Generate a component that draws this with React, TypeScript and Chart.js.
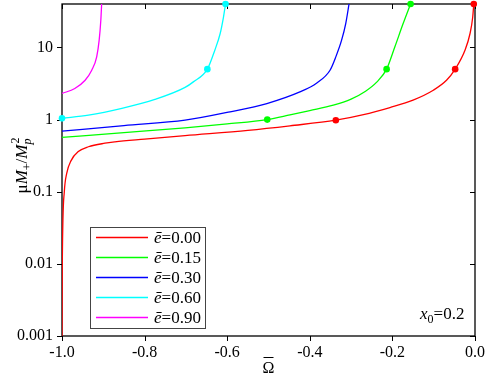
import React, { useEffect, useRef } from 'react';
import { Chart, registerables } from 'chart.js';

Chart.register(...registerables);

// ---- data ----
const eLabels = ['0.00', '0.15', '0.30', '0.60', '0.90'];
const seriesColors = ['#ff0000', '#00ff00', '#0000ff', '#00ffff', '#ff00ff'];

const omega000 = [-1.0, -0.9993, -0.9944, -0.9886, -0.978, -0.9605, -0.936, -0.896, -0.872, -0.8, -0.702, -0.55, -0.448, -0.337, -0.27, -0.206, -0.15, -0.101, -0.069, -0.048, -0.024, -0.012, -0.0055, -0.003];
const mass000 = [0.001, 0.01, 0.1, 0.18, 0.27, 0.36, 0.42, 0.47, 0.49, 0.535, 0.6, 0.71, 0.82, 0.98, 1.17, 1.47, 1.86, 2.55, 3.5, 5.0, 9.2, 15.6, 26.4, 40];

const omega015 = [-1.0, -0.85, -0.702, -0.6, -0.503, -0.448, -0.4, -0.343, -0.3, -0.265, -0.238, -0.214, -0.194, -0.174, -0.156];
const mass015 = [0.565, 0.66, 0.767, 0.87, 1.0, 1.16, 1.33, 1.58, 1.92, 2.47, 3.3, 5.0, 10.2, 21.4, 40];

const omega030 = [-1.0, -0.85, -0.702, -0.593, -0.504, -0.424, -0.383, -0.351, -0.337, -0.323, -0.313, -0.305];
const mass030 = [0.69, 0.826, 0.98, 1.28, 1.67, 2.42, 3.22, 4.83, 7.4, 12.6, 21.4, 40];

const omega060 = [-1.0, -0.936, -0.855, -0.775, -0.702, -0.682, -0.648, -0.63, -0.617, -0.609, -0.604];
const mass060 = [1.04, 1.15, 1.43, 1.9, 2.79, 3.33, 5.0, 9.15, 15.6, 26.4, 40];

const omega090 = [-1.0, -0.969, -0.944, -0.928, -0.916, -0.91, -0.906, -0.904];
const mass090 = [2.3, 2.7, 3.51, 4.83, 7.4, 12.6, 23.8, 40];

// marker points
const markOmega000 = [-0.337, -0.048, -0.003];
const markMass000 = [0.98, 5.0, 40];
const markOmega015 = [-0.503, -0.214, -0.156];
const markMass015 = [1.0, 5.0, 40];
const markOmega060 = [-1.0, -0.648, -0.604];
const markMass060 = [1.04, 5.0, 40];

const xTickLabels = ['-1.0', '-0.8', '-0.6', '-0.4', '-0.2', '0.0'];
const yTickLabels = ['0.001', '0.01', '0.1', '1', '10'];
const xMin = -1.0, xMax = 0.0, xMinorStep = 0.05, xMajorStep = 0.2;
const yMin = 0.001, yMax = 40;
const annotationValue = '0.2';

const lineSeries = [
  { omega: omega000, mass: mass000 },
  { omega: omega015, mass: mass015 },
  { omega: omega030, mass: mass030 },
  { omega: omega060, mass: mass060 },
  { omega: omega090, mass: mass090 },
];
const markerSeries = [
  { idx: 0, omega: markOmega000, mass: markMass000 },
  { idx: 1, omega: markOmega015, mass: markMass015 },
  { idx: 3, omega: markOmega060, mass: markMass060 },
];

const FONT = '"Liberation Serif", "DejaVu Serif", serif';

function isMajorX(v: number) {
  const r = v / xMajorStep;
  return Math.abs(r - Math.round(r)) < 1e-6;
}
function isMajorY(v: number) {
  const l = Math.log10(v);
  return Math.abs(l - Math.round(l)) < 1e-6;
}

const decorPlugin = {
  id: 'decor',
  beforeDatasetsDraw(chart: any) {
    const { ctx, chartArea: a, scales } = chart;
    const xs = scales.x, ys = scales.y;
    ctx.save();
    ctx.strokeStyle = '#000';
    ctx.lineWidth = 1.3;
    ctx.strokeRect(a.left, a.top, a.right - a.left, a.bottom - a.top);
    ctx.lineWidth = 1;
    ctx.beginPath();
    xs.ticks.forEach((t: any) => {
      const px = Math.round(xs.getPixelForValue(t.value)) + 0.5;
      const L = isMajorX(t.value) ? 5 : 3;
      ctx.moveTo(px, a.bottom); ctx.lineTo(px, a.bottom + L);
      ctx.moveTo(px, a.top); ctx.lineTo(px, a.top + L);
    });
    ys.ticks.forEach((t: any) => {
      if (t.value < yMin || t.value > yMax) return;
      const py = Math.round(ys.getPixelForValue(t.value)) + 0.5;
      const L = isMajorY(t.value) ? 5 : 3;
      ctx.moveTo(a.left - L, py); ctx.lineTo(a.left, py);
      ctx.moveTo(a.right - L, py); ctx.lineTo(a.right, py);
    });
    ctx.stroke();
    ctx.restore();
  },
  afterDraw(chart: any) {
    const { ctx, chartArea: a } = chart;
    ctx.save();
    ctx.fillStyle = '#000';
    ctx.textBaseline = 'alphabetic';

    // y-axis title: μM+/Mp^2 (rotated)
    const big = `17px ${FONT}`, bigI = `italic 17px ${FONT}`, small = `12px ${FONT}`, smallI = `italic 12px ${FONT}`;
    const runs: any[] = [
      { t: 'μ', f: big, dy: 0 },
      { t: 'M', f: bigI, dy: 0 },
      { t: '+', f: small, dy: 4 },
      { t: '/', f: big, dy: 0 },
      { t: 'M', f: bigI, dy: 0 },
      { t: 'p', f: smallI, dy: 4, stackWith: { t: '2', f: small, dy: -8 } },
    ];
    let total = 0;
    runs.forEach((r) => {
      ctx.font = r.f;
      let w = ctx.measureText(r.t).width;
      if (r.stackWith) { ctx.font = r.stackWith.f; w = Math.max(w, ctx.measureText(r.stackWith.t).width); }
      r.w = w; total += w;
    });
    ctx.save();
    ctx.translate(27, 166);
    ctx.rotate(-Math.PI / 2);
    let cx = -total / 2;
    runs.forEach((r) => {
      ctx.font = r.f;
      ctx.fillText(r.t, cx, r.dy);
      if (r.stackWith) { ctx.font = r.stackWith.f; ctx.fillText(r.stackWith.t, cx + 1, r.stackWith.dy); }
      cx += r.w;
    });
    ctx.restore();

    // x-axis title: Omega bar
    ctx.font = `16px ${FONT}`;
    ctx.textAlign = 'center';
    const xc = (a.left + a.right) / 2;
    ctx.fillText('Ω', xc, 373);
    ctx.beginPath();
    ctx.lineWidth = 1;
    ctx.strokeStyle = '#000';
    ctx.moveTo(xc - 5, 357.5); ctx.lineTo(xc + 5, 357.5);
    ctx.stroke();

    // annotation x0=0.2
    ctx.textAlign = 'left';
    let ax = 420;
    const ay = 319;
    ctx.font = `italic 17px ${FONT}`;
    ctx.fillText('x', ax, ay); ax += ctx.measureText('x').width;
    ctx.font = `12px ${FONT}`;
    ctx.fillText('0', ax, ay + 4); ax += ctx.measureText('0').width;
    ctx.font = `17px ${FONT}`;
    ctx.fillText('=' + annotationValue, ax, ay);

    // legend
    const bx = 90.5, by = 227.5, bw = 115, bh = 101;
    ctx.strokeStyle = '#444';
    ctx.lineWidth = 1;
    ctx.strokeRect(bx, by, bw, bh);
    const items = chart.data.datasets.filter((d: any) => !d.isMarker);
    items.forEach((d: any, i: number) => {
      const y = 237.5 + i * 20;
      ctx.beginPath();
      ctx.strokeStyle = d.borderColor;
      ctx.lineWidth = 1.5;
      ctx.moveTo(96, y); ctx.lineTo(148, y);
      ctx.stroke();
      const txt: string = d.label;
      let tx = 154;
      ctx.font = `italic 17px ${FONT}`;
      ctx.fillText(txt.charAt(0), tx, y + 5.5);
      tx += ctx.measureText(txt.charAt(0)).width;
      ctx.font = `17px ${FONT}`;
      ctx.fillText(txt.slice(1), tx, y + 5.5);
    });
    ctx.restore();
  },
};

export default function App() {
  const ref = useRef<HTMLCanvasElement | null>(null);
  useEffect(() => {
    if (!ref.current) return;
    const datasets: any[] = lineSeries.map((s, i) => ({
      label: `ē=${eLabels[i]}`,
      data: s.omega.map((x, j) => ({ x, y: s.mass[j] })),
      borderColor: seriesColors[i],
      backgroundColor: seriesColors[i],
      borderWidth: 1.3,
      pointRadius: 0,
      fill: false,
      cubicInterpolationMode: 'monotone',
      isMarker: false,
    }));
    markerSeries.forEach((m) => {
      datasets.push({
        label: '',
        data: m.omega.map((x, j) => ({ x, y: m.mass[j] })),
        showLine: false,
        pointRadius: 3.3,
        pointBorderWidth: 0,
        pointBackgroundColor: seriesColors[m.idx],
        borderColor: seriesColors[m.idx],
        clip: false,
        isMarker: true,
      });
    });
    const chart = new Chart(ref.current, {
      type: 'line',
      data: { datasets },
      options: {
        animation: false,
        responsive: false,
        maintainAspectRatio: false,
        events: [],
        layout: { padding: { left: 0, right: 13, top: 4, bottom: 0 } },
        plugins: { legend: { display: false }, tooltip: { enabled: false }, title: { display: false } },
        scales: {
          x: {
            type: 'linear',
            min: xMin,
            max: xMax,
            border: { display: false },
            grid: { display: true, drawOnChartArea: false, drawTicks: true, tickLength: 5, color: 'rgba(0,0,0,0)' },
            ticks: {
              stepSize: xMinorStep,
              autoSkip: false,
              maxRotation: 0,
              padding: 2,
              color: '#000',
              font: { family: FONT, size: 16 },
              callback: (v: any) => {
                const n = Number(v);
                if (!isMajorX(n)) return null;
                const k = Math.round((n - xMin) / xMajorStep);
                return xTickLabels[k] ?? null;
              },
            },
            afterFit: (s: any) => { s.height = 41; s.paddingLeft = 0; s.paddingRight = 0; s.paddingTop = 0; s.paddingBottom = 0; },
          },
          y: {
            type: 'logarithmic',
            min: yMin,
            max: yMax,
            border: { display: false },
            grid: { display: true, drawOnChartArea: false, drawTicks: true, tickLength: 5, color: 'rgba(0,0,0,0)' },
            ticks: {
              autoSkip: false,
              padding: 4,
              color: '#000',
              font: { family: FONT, size: 16 },
              callback: (v: any) => {
                const n = Number(v);
                if (!isMajorY(n)) return null;
                const k = Math.round(Math.log10(n) - Math.log10(yMin));
                return yTickLabels[k] ?? null;
              },
            },
            afterFit: (s: any) => { s.width = 62; s.paddingTop = 0; s.paddingBottom = 0; s.paddingLeft = 0; s.paddingRight = 0; },
          },
        },
      } as any,
      plugins: [decorPlugin],
    });
    return () => chart.destroy();
  }, []);
  return (
    <div style={{ position: 'fixed', left: 0, top: 0, width: 488, height: 377, background: '#fff' }}>
      <canvas ref={ref} width={488} height={377} style={{ width: 488, height: 377, display: 'block' }} />
    </div>
  );
}
